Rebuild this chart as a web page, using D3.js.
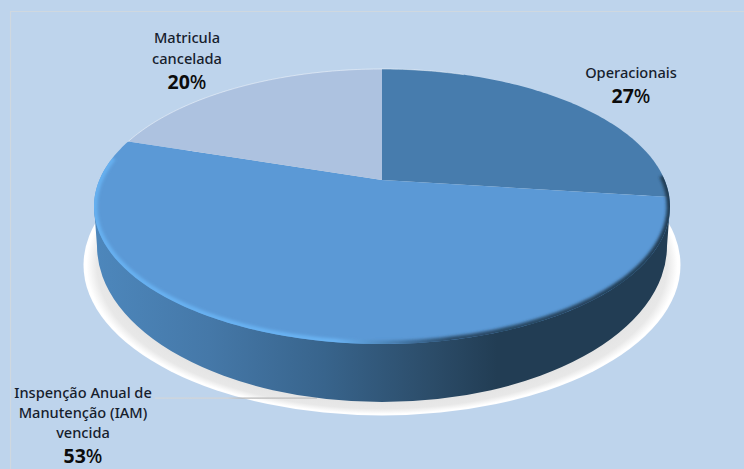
<!DOCTYPE html>
<html>
<head>
<meta charset="utf-8">
<script src="https://cdn.jsdelivr.net/npm/d3@7"></script>
<style>
  html, body { margin: 0; padding: 0; background: #bed4ec; }
  svg { display: block; }
  text { font-family: "Noto Sans", "Open Sans", sans-serif; fill: #16202c; text-anchor: middle; }
  .name { font-size: 14.6px; font-weight: 500; }
  .share { font-size: 19.5px; font-weight: 700; fill: #0c0c0c; }
  .share tspan { font-weight: 500; }
</style>
</head>
<body>
<svg id="chart" width="744" height="469"></svg>
<script>
// Situação das aeronaves: parcelas do disco, em sentido horário a partir do topo
const categories = ["Operacionais", "Inspenção Anual de Manutenção (IAM) vencida", "Matricula cancelada"];
const shares = [27, 53, 20];
const sliceColors = ["#477cad", "#5b99d6", "#adc2e0"];
const labelLines = [["Operacionais"], ["Inspenção Anual de", "Manutenção (IAM)", "vencida"], ["Matricula", "cancelada"]];
const labelAnchors = [[631, 78], [83, 398], [187, 43]];
const lineGaps = [21, 20, 21];
const shareGap = 25;

const width = 744, height = 469;
const svg = d3.select("#chart");
const defs = svg.append("defs");

// Disc geometry in screen pixels
const centerX = 382;
const apexY = 180;        // where the slices meet
const tilt = -0.1927;     // perspective foreshortening of the far edge
const xSpan = 282.6, ySpan = 97.7;
const faceCenterY = 206.5, faceRx = 288;

// Perspective projection of a point on the unit disc, angle measured clockwise from the top
function project(angle, r = 1) {
  const ux = r * Math.sin(angle), uy = -r * Math.cos(angle);
  const w = 1 + tilt * uy;
  return [centerX + xSpan * ux / w, (ySpan * uy + apexY) / w];
}

const line = d3.line();
const step = Math.PI / 180;

function sectorPath(d) {
  const n = Math.max(2, Math.ceil((d.endAngle - d.startAngle) / step));
  const a = d3.scaleLinear().domain([0, n]).range([d.startAngle, d.endAngle]);
  const rim = d3.range(n + 1).map(i => project(a(i)));
  return line([project(0, 0), ...rim]) + "Z";
}

function arcPath(from, to) {
  const n = Math.ceil(Math.abs(to - from) / step);
  const a = d3.scaleLinear().domain([0, n]).range([from, to]);
  return line(d3.range(n + 1).map(i => project(a(i))));
}

const pie = d3.pie().sort(null).value(d => d);
const sectors = pie(shares);

// Frame lines
svg.append("rect").attr("width", width).attr("height", height).attr("fill", "#bed4ec");
svg.append("path")
  .attr("d", `M10.5,${height}V11.5H${width}`)
  .attr("fill", "none").attr("stroke", "#cfd8e0").attr("stroke-width", 1.2);

// Ground shadow
const shadowGrad = defs.append("radialGradient").attr("id", "shadowFill");
[[0.9, "#e4e4e4"], [0.955, "#e8e8e8"], [0.99, "#ffffff"], [1, "#ffffff"]].forEach(([o, c]) =>
  shadowGrad.append("stop").attr("offset", o).attr("stop-color", c));
svg.append("ellipse")
  .attr("cx", centerX).attr("cy", 265).attr("rx", 298.5).attr("ry", 150.5)
  .attr("fill", "url(#shadowFill)");

// Leader line to the largest slice
const leader = defs.append("linearGradient").attr("id", "leaderStroke")
  .attr("gradientUnits", "userSpaceOnUse").attr("x1", 155).attr("x2", 317).attr("y1", 0).attr("y2", 0);
[[0, "#d2d6da"], [0.45, "#d4d4d4"], [0.55, "#b4b4b4"], [1, "#c0c0c0"]].forEach(([o, c]) =>
  leader.append("stop").attr("offset", o).attr("stop-color", c));
svg.append("rect").attr("x", 155).attr("y", 397.5).attr("width", 162).attr("height", 1.2)
  .attr("fill", "url(#leaderStroke)");

// Side wall of the disc
const wallGrad = defs.append("linearGradient").attr("id", "wallFill")
  .attr("gradientUnits", "userSpaceOnUse").attr("x1", 94).attr("x2", 670).attr("y1", 0).attr("y2", 0);
[[0, "#4d87bc"], [0.2, "#4578a8"], [0.4, "#38648c"], [0.58, "#2c4d6a"], [0.7, "#223d54"], [1, "#223d54"]]
  .forEach(([o, c]) => wallGrad.append("stop").attr("offset", o).attr("stop-color", c));
const wallCy = 246, wallRx = 285, wallRy = 156;
svg.append("path")
  .attr("d", `M${centerX - faceRx},${faceCenterY}L${centerX - wallRx},${wallCy}`
    + `A${wallRx},${wallRy} 0 0 0 ${centerX + wallRx},${wallCy}L${centerX + faceRx},${faceCenterY}Z`)
  .attr("fill", "url(#wallFill)");

// Top face slices
const face = svg.append("g");
face.selectAll("path").data(sectors).join("path")
  .attr("d", sectorPath)
  .attr("fill", (d, i) => sliceColors[i]);

// Bevel along the near rim: bright on the left, falling into shadow on the right
defs.append("clipPath").attr("id", "faceClip").append("path").attr("d", arcPath(0, 2 * Math.PI) + "Z");
defs.append("filter").attr("id", "soft")
  .attr("filterUnits", "userSpaceOnUse").attr("x", 0).attr("y", 0).attr("width", width).attr("height", height)
  .append("feGaussianBlur").attr("stdDeviation", 1.5);
const rimGrad = defs.append("linearGradient").attr("id", "rimStroke")
  .attr("gradientUnits", "userSpaceOnUse").attr("x1", 94).attr("x2", 670).attr("y1", 0).attr("y2", 0);
[[0, "#66b0f0"], [0.42, "#69b2f2"], [0.55, "#3f6f9c"], [0.62, "#2a4c6a"], [1, "#223d54"]]
  .forEach(([o, c]) => rimGrad.append("stop").attr("offset", o).attr("stop-color", c));
svg.append("g").attr("clip-path", "url(#faceClip)")
  .append("path")
  .attr("d", arcPath(88 * step, 280 * step))
  .attr("fill", "none")
  .attr("stroke", "url(#rimStroke)")
  .attr("stroke-width", 7)
  .attr("filter", "url(#soft)");

// Thin highlight along the far rim
svg.append("path")
  .attr("d", arcPath(-72 * step, 20 * step))
  .attr("fill", "none").attr("stroke", "#ffffff").attr("stroke-opacity", 0.45).attr("stroke-width", 1);

// Labels
const labels = svg.append("g").selectAll("g").data(categories).join("g")
  .attr("transform", (d, i) => `translate(${labelAnchors[i][0]},${labelAnchors[i][1]})`);
labels.each(function (d, i) {
  const g = d3.select(this);
  const count = labelLines[i].length;
  labelLines[i].forEach((t, k) =>
    g.append("text").attr("class", "name").attr("y", k * lineGaps[i]).text(t));
  const share = g.append("text").attr("class", "share")
    .attr("y", (count - 1) * lineGaps[i] + shareGap)
    .text(shares[i]);
  share.append("tspan").text("%");
});
</script>
</body>
</html>
